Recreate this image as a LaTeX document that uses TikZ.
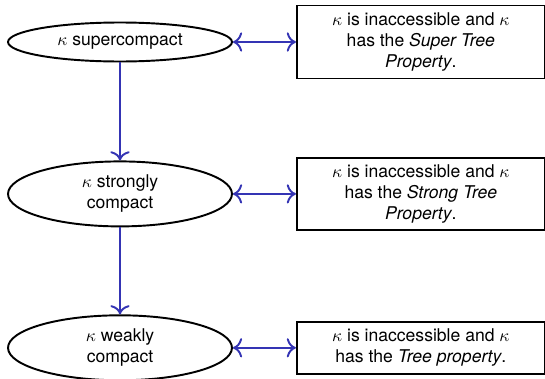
\documentclass[tikz,border=0pt]{standalone}
\usepackage{fontspec}
\setsansfont{TeX Gyre Heros}
\usetikzlibrary{arrows.meta,positioning,shapes.geometric}
\definecolor{ink}{HTML}{000000}
\definecolor{linkblue}{HTML}{3434B4}
\tikzset{
  cardinal/.style={draw=ink, ellipse, line width=1.1pt, align=center, minimum width=4.48cm, inner sep=1pt, font=\sffamily},
  property/.style={draw=ink, rectangle, line width=1.1pt, align=center, minimum width=4.96cm, inner sep=2.5pt, font=\sffamily},
  implies/.style={-{To[scale=1.3]}, line width=1.1pt, draw=linkblue},
  equiv/.style={{To[scale=1.3]}-{To[scale=1.3]}, line width=1.1pt, draw=linkblue}
}

\begin{document}
\begin{tikzpicture}[x=0.02cm, y=-0.02cm]
  \useasboundingbox (0,0) rectangle (545,379);

  \node[cardinal, minimum height=0.78cm] (sc) at (120,42) {$\kappa$ supercompact};
  \node[cardinal, minimum height=1.3cm, below=1.96cm of sc] (stc) {$\kappa$ strongly\\compact};
  \node[cardinal, minimum height=1.3cm, below=1.74cm of stc] (wc) {$\kappa$ weakly\\compact};

  \node[property, minimum height=1.46cm, right=1.26cm of sc] (stp) {$\kappa$ is inaccessible and $\kappa$\\has the \textit{Super Tree}\\\textit{Property}.};
  \node[property, minimum height=1.44cm, right=1.26cm of stc] (sgtp) {$\kappa$ is inaccessible and $\kappa$\\has the \textit{Strong Tree}\\\textit{Property}.};
  \node[property, minimum height=1.04cm, right=1.26cm of wc] (tp) {$\kappa$ is inaccessible and $\kappa$\\has the \textit{Tree property}.};

  \draw[implies] (sc) -- (stc);
  \draw[implies] (stc) -- (wc);
  \draw[equiv] (sc) -- (stp);
  \draw[equiv] (stc) -- (sgtp);
  \draw[equiv] (wc) -- (tp);
\end{tikzpicture}
\end{document}
